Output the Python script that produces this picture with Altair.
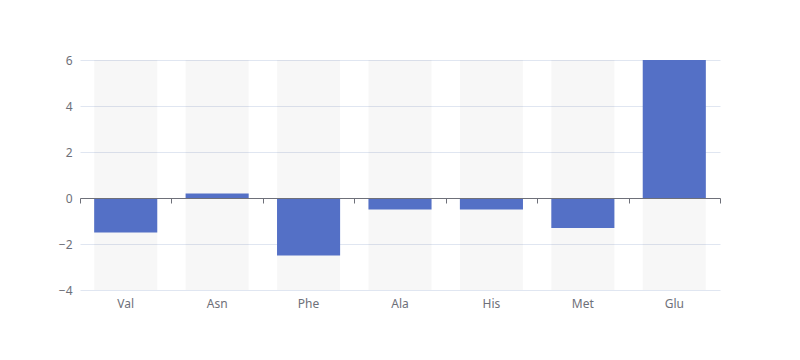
import altair as alt
import pandas as pd

categories = ["Val", "Asn", "Phe", "Ala", "His", "Met", "Glu"]
values = [-1.5, 0.2, -2.5, -0.5, -0.5, -1.3, 6]
y_ticks = [-4, -2, 0, 2, 4, 6]

df = pd.DataFrame({"cat": categories, "val": values})
edges = pd.DataFrame({"edge": list(range(len(categories) + 1))})

FONT = "Noto Sans"
W, H = 640, 230

xscale = alt.Scale(domain=categories, paddingInner=0.31, paddingOuter=0.155)
yscale = alt.Scale(domain=[-4, 6], nice=False, zero=False)

bg = alt.Chart(df).mark_bar(color="black", opacity=0.03).encode(
    x=alt.X("cat:N", scale=xscale, sort=categories,
            axis=alt.Axis(title=None, labelAngle=0, domain=False, ticks=False,
                          tickSize=0, labelPadding=8, labelColor="#6e7079",
                          labelFont=FONT, labelFontSize=12, grid=False)),
    y=alt.value(0),
    y2=alt.value(H),
)

bars = alt.Chart(df).mark_bar(color="#5470c6").encode(
    x=alt.X("cat:N", scale=xscale, sort=categories, axis=None),
    y=alt.Y("val:Q", scale=yscale,
            axis=alt.Axis(title=None, values=y_ticks, domain=False, ticks=False,
                          labelPadding=8, labelColor="#6e7079", labelFont=FONT,
                          labelFontSize=12, gridColor="#e0e6f1", gridWidth=1)),
)

zero_axis = alt.Chart(edges).mark_point(opacity=0).encode(
    x=alt.X("edge:Q", scale=alt.Scale(domain=[0, len(categories)], nice=False, zero=False),
            axis=alt.Axis(title=None, labels=False, domain=True, ticks=True,
                          values=list(range(len(categories) + 1)),
                          tickSize=5, tickColor="#6e7079", domainColor="#6e7079",
                          grid=False, orient="bottom", zindex=1,
                          offset=-(H * 4 / 10))),
    y=alt.value(0),
)

chart = alt.layer(bg, bars, zero_axis).resolve_scale(x="independent").resolve_axis(
    x="independent").properties(
    width=W, height=H,
    background="white",
    autosize=alt.AutoSizeParams(type="none"),
    padding={"left": 72, "top": 52, "right": 72, "bottom": 62},
).configure_view(strokeOpacity=0, strokeWidth=0).configure_axisX(grid=False).configure_axisY(
    domain=False, ticks=False)

chart.save("out.html", embed_options={"renderer": "svg", "actions": False})
